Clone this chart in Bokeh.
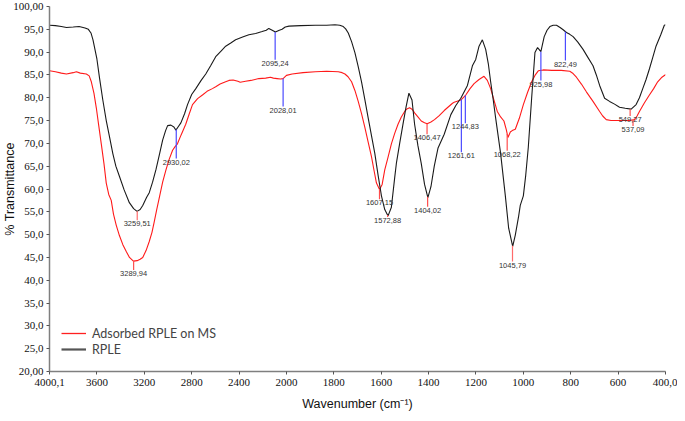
import numpy as np
from bokeh.plotting import figure
from bokeh.models import Range1d, FixedTicker, Legend, LegendItem, ColumnDataSource
from bokeh.embed import file_html
from bokeh.resources import INLINE
from bokeh.core.properties import value

# ---------------- data ----------------
rple_wn = [4000, 3950, 3900, 3857, 3800, 3750, 3700, 3672, 3650, 3633, 3600, 3577, 3550, 3521,
           3490, 3465, 3440, 3410, 3370, 3326, 3290, 3261, 3235, 3213, 3200, 3180, 3158, 3130,
           3101, 3070, 3045, 3020, 3003, 2975, 2950, 2933, 2915, 2891, 2860, 2835, 2800, 2765,
           2720, 2681, 2640, 2597, 2550, 2513, 2470, 2429, 2370, 2317, 2260, 2205, 2170, 2149,
           2120, 2093, 2060, 2037, 2010, 1989, 1940, 1878, 1830, 1795, 1775, 1760, 1750, 1739,
           1725, 1711, 1697, 1683, 1669, 1655, 1641, 1627, 1613, 1599, 1585, 1571, 1557, 1543,
           1536, 1522, 1508, 1495, 1483, 1470, 1459, 1445, 1431, 1417, 1403, 1390, 1376, 1360,
           1334, 1306, 1285, 1264, 1236, 1215, 1201, 1187, 1173, 1159, 1148, 1138, 1127, 1117,
           1096, 1082, 1076, 1062, 1045, 1034, 1020, 1013, 1000, 990, 979, 965, 951, 940, 926,
           912, 900, 888, 874, 860, 845, 832, 818, 804, 790, 770, 748, 727, 706, 692, 678, 657,
           636, 615, 594, 570, 545, 524, 510, 496, 482, 468, 454, 440, 420, 405, 400]
rple_t = [95.9, 95.8, 95.6, 95.4, 95.5, 95.6, 95.3, 95.0, 94.2, 92.7, 88.5, 84.2, 79.5, 75.0,
          71.0, 67.7, 65.0, 62.8, 59.8, 57.0, 55.7, 55.1, 55.5, 56.4, 57.1, 58.2, 59.2, 61.5,
          64.3, 67.8, 70.7, 72.8, 73.9, 74.0, 73.6, 72.9, 73.6, 74.5, 76.5, 78.5, 80.7, 82.0,
          83.8, 85.2, 87.0, 89.0, 90.3, 91.3, 92.0, 92.7, 93.3, 93.8, 94.1, 94.5, 94.8, 95.2,
          94.8, 94.4, 94.8, 95.0, 95.5, 95.7, 95.8, 95.9, 95.9, 96.0, 95.9, 95.6, 95.1, 94.2,
          92.3, 89.9, 86.8, 83.5, 79.6, 75.6, 71.7, 67.8, 63.0, 58.5, 55.5, 54.1, 56.0, 62.5,
          65.6, 70.0, 74.2, 78.0, 81.0, 79.5, 74.2, 69.5, 65.6, 61.0, 58.1, 60.5, 65.0, 69.0,
          72.0, 76.3, 78.3, 79.9, 82.7, 87.0, 88.4, 91.3, 92.7, 90.6, 87.5, 83.5, 79.5, 75.6,
          67.8, 61.3, 58.5, 51.4, 47.4, 49.9, 54.0, 56.4, 58.5, 63.0, 69.2, 79.9, 89.9, 91.0, 90.1,
          93.4, 94.8, 95.6, 95.9, 95.9, 95.4, 94.9, 94.3, 93.9, 93.4, 92.2, 90.6, 88.8, 87.0, 85.0, 82.7, 79.9,
          79.2, 78.6, 77.9, 77.7, 77.5, 78.5, 80.0, 82.0, 84.0, 86.3, 88.8, 91.3, 93.8, 95.9, 96.0]

ads_wn = [4000, 3950, 3900, 3857, 3800, 3773, 3740, 3689, 3665, 3647, 3625, 3605, 3585, 3563,
          3540, 3521, 3500, 3479, 3460, 3437, 3410, 3381, 3350, 3325, 3292, 3260, 3235, 3213,
          3185, 3158, 3135, 3116, 3095, 3074, 3045, 3017, 2990, 2961, 2940, 2920, 2890, 2850,
          2820, 2793, 2750, 2709, 2670, 2625, 2597, 2560, 2513, 2485, 2450, 2410, 2390, 2345,
          2300, 2233, 2175, 2135, 2110, 2079, 2050, 2028, 2000, 1976, 1930, 1878, 1830, 1781,
          1765, 1753, 1740, 1725, 1711, 1697, 1683, 1669, 1655, 1641, 1630, 1620, 1607, 1596,
          1585, 1571, 1557, 1543, 1529, 1515, 1501, 1490, 1480, 1470, 1459, 1445, 1431, 1417,
          1406, 1390, 1375, 1355, 1334, 1299, 1292, 1264, 1243, 1225, 1208, 1187, 1166, 1152,
          1138, 1124, 1110, 1096, 1082, 1072, 1065, 1055, 1047, 1034, 1017, 1000, 982, 965, 951,
          937, 916, 880, 840, 804, 790, 776, 755, 734, 706, 678, 665, 650, 630, 608, 580, 552,
          531, 520, 510, 490, 468, 450, 433, 415, 402, 400]
ads_t = [85.9, 85.7, 85.4, 85.2, 85.5, 85.7, 85.4, 85.2, 84.8, 83.5, 81.0, 77.8, 74.0, 69.9,
         65.5, 61.3, 58.8, 57.5, 54.5, 52.1, 49.8, 47.8, 46.2, 45.0, 44.2, 44.3, 44.6, 45.0,
         46.5, 48.5, 50.5, 52.8, 55.5, 58.0, 61.5, 64.2, 66.5, 68.5, 69.3, 69.9, 71.8, 74.2,
         76.5, 78.5, 79.8, 80.6, 81.4, 82.0, 82.4, 83.0, 83.5, 83.8, 83.9, 83.6, 83.4, 83.6,
         83.8, 84.2, 84.3, 84.5, 84.3, 84.2, 84.1, 84.2, 84.9, 85.2, 85.5, 85.7, 85.8, 85.7,
         85.5, 85.2, 84.6, 83.5, 81.6, 79.2, 76.5, 73.5, 70.3, 67.1, 64.0, 61.3, 59.9, 61.0,
         64.2, 67.0, 69.9, 72.2, 74.2, 75.8, 77.0, 77.6, 77.8, 77.5, 76.7, 75.8, 74.9, 74.5,
         74.3, 74.7, 75.2, 76.1, 77.2, 78.8, 79.0, 79.5, 80.6, 82.0, 83.1, 84.0, 84.7, 83.8,
         82.0, 79.5, 77.0, 75.8, 74.9, 73.0, 71.3, 72.5, 72.8, 73.1, 75.5, 78.5, 81.2, 83.5, 84.9,
         85.9, 86.1, 86.0, 86.0, 85.8, 85.3, 84.5, 83.0, 81.3, 79.2, 77.0, 76.0, 75.2, 75.0, 75.0, 75.0, 75.0,
         75.2, 76.0, 77.0, 78.8, 80.6, 82.0, 83.5, 84.5, 85.0, 85.1]

# peak annotations: label wavenumber, label text, which curve it sits on
peak_wn = [3289.94, 3259.51, 2930.02, 2095.24, 2028.01, 1607.15, 1572.88, 1406.47, 1404.02,
           1261.61, 1244.83, 1068.22, 1045.79, 925.98, 822.49, 549.27, 537.09]
peak_labels = ["3289,94", "3259,51", "2930,02", "2095,24", "2028,01", "1607,15", "1572,88",
               "1406,47", "1404,02", "1261,61", "1244,83", "1068,22", "1045,79", "925,98",
               "822,49", "549,27", "537,09"]
peak_curve = ["ads", "rple", "rple", "rple", "ads", "ads", "rple", "ads", "rple",
              "ads", "ads", "ads", "rple", "rple", "rple", "rple", "ads"]

x_ticks = [4000.1, 3600, 3200, 2800, 2400, 2000, 1800, 1600, 1400, 1200, 1000, 800, 600, 400]
x_tick_labels = ["4000,1", "3600", "3200", "2800", "2400", "2000", "1800", "1600", "1400",
                 "1200", "1000", "800", "600", "400,0"]
y_ticks = [20, 25, 30, 35, 40, 45, 50, 55, 60, 65, 70, 75, 80, 85, 90, 95, 100]
y_tick_labels = ["20,00", "25,0", "30,0", "35,0", "40,0", "45,0", "50,0", "55,0", "60,0",
                 "65,0", "70,0", "75,0", "80,0", "85,0", "90,0", "95,0", "100,00"]

# ---------------- styles ----------------
# marker line colour / length (px) per annotation
mark_color = ["#ff4d4d", "#ff6b6b", "#4b4bff", "#4b4bff", "#4b4bff", "#ff4d4d", "#ff4d4d",
              "#ff4d4d", "#ff4d4d", "#4b4bff", "#4b4bff", "#ff4d4d", "#ff6b6b", "#4b4bff",
              "#4b4bff", "#ff4d4d", "#ff4d4d"]
mark_len_px = [9, 9, 29, 28, 28, 10, 2, 10.5, 10, 53, 28, 17, 16, 29, 29, 7, 6]


def to_axis(w):
    """Piecewise FTIR axis: half scale above 2000 cm-1."""
    w = np.asarray(w, dtype=float)
    return np.where(w >= 2000, (4000.0 - w) / 2.0, 1000.0 + (2000.0 - w))


W, H = 677, 413
ML, MR, MT, MB = 45, 12, 6, 41
frame_h = H - MT - MB
px_per_unit = frame_h / 80.0

x0 = float(to_axis(4000.1))
x1 = float(to_axis(400))
p = figure(width=W, height=H, output_backend="svg", toolbar_location=None,
           x_range=Range1d(x0, x1), y_range=Range1d(20, 100),
           min_border_left=ML, min_border_right=MR, min_border_top=MT, min_border_bottom=MB)
p.outline_line_color = None
p.grid.visible = False
p.background_fill_color = "white"
p.border_fill_color = "white"

src_r = ColumnDataSource(dict(x=to_axis(rple_wn), y=rple_t))
src_a = ColumnDataSource(dict(x=to_axis(ads_wn), y=ads_t))
ra = p.line("x", "y", source=src_a, line_color="#ff1a1a", line_width=1.1)
rr = p.line("x", "y", source=src_r, line_color="#1a1a1a", line_width=1.1)
# legend swatches (invisible proxy renderers carrying the legend line styles)
proxy = ColumnDataSource(dict(x=[np.nan], y=[np.nan]))
leg_a = p.line("x", "y", source=proxy, line_color="#ff2020", line_width=1.3)
leg_r = p.line("x", "y", source=proxy, line_color="#555555", line_width=2.2)

# annotations
rple_sorted = (np.array(rple_wn[::-1], float), np.array(rple_t[::-1], float))
ads_sorted = (np.array(ads_wn[::-1], float), np.array(ads_t[::-1], float))
ys0, ys1, yt = [], [], []
for w, c, L in zip(peak_wn, peak_curve, mark_len_px):
    xs, ts = rple_sorted if c == "rple" else ads_sorted
    t0 = float(np.interp(w, xs, ts))
    t1 = t0 - L / px_per_unit
    ys0.append(t0)
    ys1.append(t1)
    yt.append(t1 - 1.0 / px_per_unit)
ann = ColumnDataSource(dict(x=to_axis(peak_wn), y0=ys0, y1=ys1, yt=yt,
                            color=mark_color, text=peak_labels))
p.segment(x0="x", y0="y0", x1="x", y1="y1", source=ann, line_color="color", line_width=1.2)
p.text(x="x", y="yt", text="text", source=ann, text_align="center", text_baseline="top",
       text_font=value("Liberation Sans"), text_font_size="7.5px", text_color="#333333")

# axes
xt = [float(v) for v in to_axis(x_ticks)]
p.xaxis.ticker = FixedTicker(ticks=xt)
p.xaxis.major_label_overrides = {k: lab for k, lab in zip(xt, x_tick_labels)}
p.yaxis.ticker = FixedTicker(ticks=y_ticks)
p.yaxis.major_label_overrides = {k: lab for k, lab in zip(y_ticks, y_tick_labels)}
for ax in (p.xaxis[0], p.yaxis[0]):
    ax.axis_line_color = "#7f7f7f"
    ax.axis_line_width = 1.5
    ax.major_tick_line_color = "#555555"
    ax.major_tick_in = 0
    ax.major_tick_out = 3
    ax.minor_tick_line_color = None
    ax.major_label_text_font = "Liberation Serif"
    ax.major_label_text_font_size = "11px"
    ax.major_label_text_color = "#111111"
    ax.axis_label_text_font = "Liberation Sans"
    ax.axis_label_text_font_style = "normal"
    ax.axis_label_text_font_size = "12.5px"
    ax.axis_label_text_color = "#111111"
p.yaxis.major_label_standoff = 3
p.xaxis.major_label_standoff = 4
p.xaxis.axis_label = "Wavenumber (cm\u207b\u00b9)"
p.xaxis.axis_label_standoff = 8
p.yaxis.axis_label = "% Transmittance"
p.yaxis.axis_label_standoff = -7

legend = Legend(items=[LegendItem(label="Adsorbed RPLE on MS", renderers=[leg_a]),
                       LegendItem(label="RPLE", renderers=[leg_r])],
                location=(12, 14), border_line_color=None, background_fill_alpha=0,
                padding=0, margin=0, spacing=0, glyph_width=25, glyph_height=16,
                label_height=16, label_standoff=6, label_text_font="Lato",
                label_text_font_size="12.5px")
p.add_layout(legend)

open("out.html", "w").write(file_html(p, INLINE))
